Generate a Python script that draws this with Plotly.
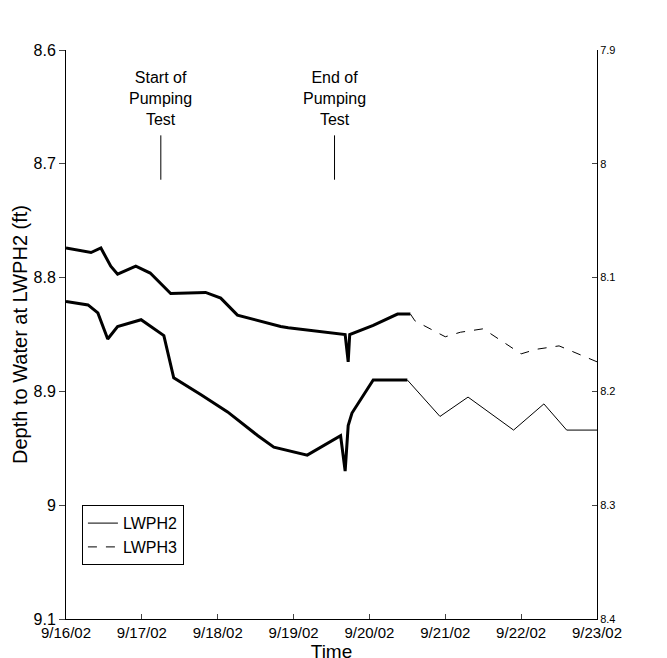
import plotly.graph_objects as go
from datetime import datetime, timedelta

t0 = datetime(2002, 9, 16)
# days since 9/16/02, depth (ft)
lw2_days = [0.0, 0.33, 0.46, 0.59, 0.68, 0.92, 1.11, 1.38, 1.84, 2.04, 2.26, 2.83, 2.93, 3.05, 3.58, 3.68, 3.72, 3.74, 4.05, 4.37, 4.54]
lw2_depth = [8.774, 8.778, 8.774, 8.790, 8.797, 8.790, 8.796, 8.814, 8.813, 8.818, 8.833, 8.843, 8.844, 8.845, 8.849, 8.850, 8.874, 8.850, 8.842, 8.832, 8.832]
lw2b_days = [4.54, 4.6, 5.0, 5.2, 5.5, 6.0, 6.2, 6.5, 7.0]
lw2b_depth = [8.832, 8.838, 8.852, 8.848, 8.845, 8.867, 8.863, 8.860, 8.874]

lw3_days = [0.0, 0.29, 0.42, 0.55, 0.68, 0.99, 1.29, 1.42, 1.78, 2.13, 2.53, 2.74, 3.18, 3.62, 3.68, 3.72, 3.77, 4.05, 4.50]
lw3_depth = [8.121, 8.124, 8.131, 8.154, 8.143, 8.137, 8.151, 8.188, 8.203, 8.218, 8.239, 8.249, 8.256, 8.239, 8.270, 8.230, 8.219, 8.190, 8.190]
lw3b_days = [4.50, 4.93, 5.3, 5.9, 6.3, 6.6, 7.0]
lw3b_depth = [8.190, 8.222, 8.205, 8.234, 8.211, 8.234, 8.234]

def to_t(days):
    return [t0 + timedelta(days=d) for d in days]

fig = go.Figure()
fig.add_trace(go.Scatter(x=to_t(lw2_days), y=lw2_depth, mode="lines", line=dict(color="black", width=3), showlegend=False))
fig.add_trace(go.Scatter(x=to_t(lw2b_days), y=lw2b_depth, mode="lines", line=dict(color="black", width=1, dash="dash"), showlegend=False))
fig.add_trace(go.Scatter(x=to_t(lw3_days), y=lw3_depth, mode="lines", yaxis="y2", line=dict(color="black", width=3), showlegend=False))
fig.add_trace(go.Scatter(x=to_t(lw3b_days), y=lw3b_depth, mode="lines", yaxis="y2", line=dict(color="black", width=1), showlegend=False))
fig.add_trace(go.Scatter(x=[None], y=[None], mode="lines", name="LWPH2", line=dict(color="black", width=1)))
fig.add_trace(go.Scatter(x=[None], y=[None], mode="lines", name="LWPH3", line=dict(color="black", width=1, dash="dash")))

events = [("Start of<br>Pumping<br>Test", 1.25), ("End of<br>Pumping<br>Test", 3.54)]
for txt, d in events:
    t = t0 + timedelta(days=d)
    fig.add_shape(type="line", x0=t, x1=t, y0=8.675, y1=8.714, line=dict(color="black", width=1))
    fig.add_annotation(x=t, y=8.615, text=txt, showarrow=False, yanchor="top", font=dict(size=16, color="black"))

ticks = to_t(range(8))
fig.update_layout(
    width=667, height=658, plot_bgcolor="white", paper_bgcolor="white",
    margin=dict(l=56, r=78, t=42, b=18),
    font=dict(family="Liberation Sans, Arial", color="black"),
    xaxis=dict(range=[ticks[0], ticks[-1]], tickvals=ticks, ticktext=[f"9/{16+i}/02" for i in range(8)],
               showline=True, linecolor="black", ticks="inside", showgrid=False, zeroline=False,
               tickfont=dict(size=15), title=dict(text="Time", font=dict(size=19), standoff=0)),
    yaxis=dict(range=[9.1, 8.6], tickvals=[8.6, 8.7, 8.8, 8.9, 9.0, 9.1], ticktext=["8.6", "8.7", "8.8", "8.9", "9", "9.1"],
               showline=True, linecolor="black", ticks="outside", ticklen=6, showgrid=False, zeroline=False,
               tickfont=dict(size=16), title=dict(text="Depth to Water at LWPH2 (ft)", font=dict(size=20), standoff=0)),
    yaxis2=dict(range=[8.4, 7.9], overlaying="y", side="right", tickvals=[7.9, 8.0, 8.1, 8.2, 8.3, 8.4],
                ticktext=["7.9", "8", "8.1", "8.2", "8.3", "8.4"], showline=True, linecolor="black",
                ticks="inside", showgrid=False, zeroline=False, tickfont=dict(size=11)),
    legend=dict(x=0.03, y=0.2, xanchor="left", yanchor="top", bordercolor="black", borderwidth=1,
                font=dict(size=16), bgcolor="white"),
)
fig.write_html("out.html")
